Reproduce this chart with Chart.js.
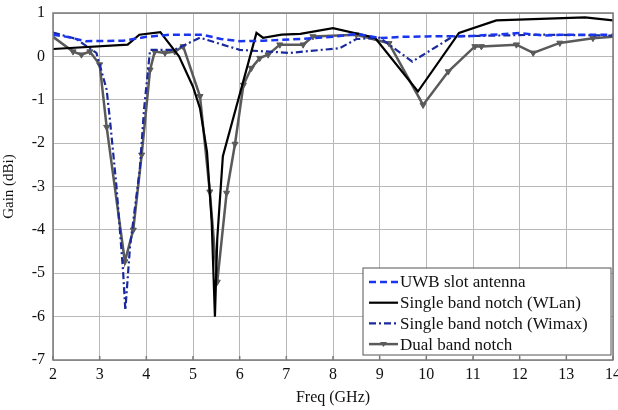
<!DOCTYPE html>
<html>
<head>
<meta charset="utf-8">
<script src="https://cdn.jsdelivr.net/npm/chart.js@4"></script>
<style>
  body { margin: 0; background: #fff; }
</style>
</head>
<body>
<canvas id="gainChart" width="618" height="410"></canvas>
<script>
// UWB slot antenna
const uwbFreq = [2, 2.3, 2.7, 3.5, 4.0, 4.5, 5.2, 5.6, 6.0, 6.5, 7.3, 8.0, 8.5, 9.0, 9.5, 10, 11, 12, 12.5, 13, 14];
const uwbGain = [0.5, 0.45, 0.35, 0.36, 0.45, 0.5, 0.5, 0.4, 0.35, 0.36, 0.4, 0.45, 0.52, 0.42, 0.45, 0.46, 0.47, 0.54, 0.48, 0.5, 0.5];

// single band notch (WLan)
const wlanFreq = [2, 3.6, 3.85, 4.3, 4.7, 5.0, 5.15, 5.3, 5.4, 5.47, 5.52, 5.64, 6.36, 6.5, 6.9, 7.3, 8.0, 8.9, 9.82, 10.7, 11.5, 13.4, 14];
const wlanGain = [0.17, 0.27, 0.5, 0.56, 0.0, -0.7, -1.2, -2.2, -3.8, -6.0, -4.2, -2.3, 0.54, 0.43, 0.5, 0.52, 0.65, 0.43, -0.81, 0.54, 0.83, 0.9, 0.83];

// single band notch (Wimax)
const wimaxFreq = [2, 2.5, 2.93, 3.15, 3.22, 3.36, 3.5, 3.55, 3.65, 3.86, 3.95, 4.08, 4.6, 5.15, 6.0, 7.07, 8.15, 8.5, 9.0, 9.7, 10.57, 11.5, 12.5, 14];
const wimaxGain = [0.55, 0.4, 0.08, -0.77, -1.46, -3.0, -4.92, -5.85, -4.39, -2.6, -1.23, 0.15, 0.15, 0.43, 0.15, 0.08, 0.19, 0.4, 0.43, -0.12, 0.46, 0.48, 0.5, 0.48];

// dual band notch
const dualFreq = [2, 2.43, 2.61, 2.79, 3.0, 3.15, 3.54, 3.72, 3.9, 4.08, 4.18, 4.4, 4.61, 4.79, 5.15, 5.36, 5.52, 5.72, 5.9, 6.08, 6.25, 6.43, 6.61, 6.86, 7.36, 7.57, 8.5, 9.2, 9.93, 10.47, 11.04, 11.18, 11.93, 12.29, 12.86, 13.57, 14];
const dualGain = [0.45, 0.11, 0.04, 0.11, -0.19, -1.63, -4.73, -4.0, -2.27, -0.31, 0.11, 0.08, 0.11, 0.23, -0.92, -3.12, -5.2, -3.15, -2.02, -0.66, -0.27, -0.04, 0.04, 0.27, 0.27, 0.46, 0.5, 0.3, -1.12, -0.35, 0.23, 0.23, 0.27, 0.08, 0.31, 0.42, 0.45];

const seriesLabels = ['UWB slot antenna', 'Single band notch (WLan)', 'Single band notch (Wimax)', 'Dual band notch'];

const xTicks = [2, 3, 4, 5, 6, 7, 8, 9, 10, 11, 12, 13, 14];
const yTicks = [-7, -6, -5, -4, -3, -2, -1, 0, 1];

function zip(xs, ys) {
    return xs.map((x, i) => ({ x: x, y: ys[i] }));
}

const serif = 'Liberation Serif, Times New Roman, serif';

// frame around plot + legend box in the lower right
const framePlugin = {
    id: 'frame',
    afterDraw(chart) {
        const ctx = chart.ctx;
        const a = chart.chartArea;
        ctx.save();
        ctx.strokeStyle = '#7a7a7a';
        ctx.lineWidth = 1.5;
        ctx.setLineDash([]);
        ctx.strokeRect(a.left, a.top, a.right - a.left, a.bottom - a.top);

        // little inward ticks on the bottom axis
        const xs = chart.scales.x;
        ctx.beginPath();
        xTicks.forEach(v => {
            const px = xs.getPixelForValue(v);
            ctx.moveTo(px, a.bottom);
            ctx.lineTo(px, a.bottom - 4);
        });
        ctx.stroke();

        const w = 248, h = 87;
        const bx = a.right - 2 - w;
        const by = a.bottom - 5 - h;
        ctx.fillStyle = '#fff';
        ctx.fillRect(bx, by, w, h);
        ctx.strokeStyle = '#555';
        ctx.lineWidth = 1;
        ctx.strokeRect(bx, by, w, h);

        ctx.font = '17px ' + serif;
        ctx.textBaseline = 'middle';
        chart.data.datasets.forEach((ds, i) => {
            const yy = by + 14 + i * 20.7;
            ctx.strokeStyle = ds.borderColor;
            ctx.lineWidth = ds.borderWidth;
            ctx.setLineDash(ds.borderDash || []);
            ctx.beginPath();
            ctx.moveTo(bx + 6, yy);
            ctx.lineTo(bx + 35, yy);
            ctx.stroke();
            ctx.setLineDash([]);
            if (ds.pointStyle === 'triangle') {
                ctx.fillStyle = ds.borderColor;
                ctx.beginPath();
                ctx.moveTo(bx + 17, yy - 2);
                ctx.lineTo(bx + 24, yy - 2);
                ctx.lineTo(bx + 20.5, yy + 3);
                ctx.closePath();
                ctx.fill();
            }
            ctx.fillStyle = '#111';
            ctx.fillText(ds.label, bx + 37, yy + 1);
        });
        ctx.restore();
    }
};

const ctx = document.getElementById('gainChart').getContext('2d');
const gainChart = new Chart(ctx, {
    type: 'line',
    data: {
        datasets: [
            {
                label: seriesLabels[0],
                data: zip(uwbFreq, uwbGain),
                borderColor: '#1a35f0',
                borderWidth: 2.5,
                borderDash: [7, 4],
                pointRadius: 0,
                tension: 0
            },
            {
                label: seriesLabels[1],
                data: zip(wlanFreq, wlanGain),
                borderColor: '#000000',
                borderWidth: 2.2,
                pointRadius: 0,
                tension: 0
            },
            {
                label: seriesLabels[2],
                data: zip(wimaxFreq, wimaxGain),
                borderColor: '#1a2a9c',
                borderWidth: 2.2,
                borderDash: [7, 3, 2, 3],
                pointRadius: 0,
                tension: 0
            },
            {
                label: seriesLabels[3],
                data: zip(dualFreq, dualGain),
                borderColor: '#5a5a5a',
                backgroundColor: '#5a5a5a',
                borderWidth: 2.5,
                pointStyle: 'triangle',
                pointRotation: 180,
                pointRadius: (c) => (c.dataIndex === 0 || c.dataIndex === dualFreq.length - 1) ? 0 : 3.5,
                pointBorderWidth: 1,
                tension: 0
            }
        ]
    },
    options: {
        responsive: false,
        animation: false,
        layout: { padding: { top: 13, right: 5, left: 0, bottom: 0 } },
        scales: {
            x: {
                type: 'linear',
                min: 2,
                max: 14,
                afterFit: (s) => { s.height = 50; s.paddingLeft = 0; s.paddingRight = 0; },
                afterBuildTicks: (s) => { s.ticks = xTicks.map(v => ({ value: v })); },
                border: { display: false },
                grid: { color: '#b8b8b8', tickLength: 0, lineWidth: 1, borderDash: [1, 2] },
                ticks: { color: '#111', padding: 5, font: { family: serif, size: 16 } },
                title: { display: true, text: 'Freq (GHz)', color: '#111', font: { family: serif, size: 16 }, padding: { top: 0, bottom: 3 } }
            },
            y: {
                min: -7,
                max: 1,
                afterFit: (s) => { s.width = 53; s.paddingTop = 0; s.paddingBottom = 0; },
                afterBuildTicks: (s) => { s.ticks = yTicks.map(v => ({ value: v })); },
                border: { display: false },
                grid: { color: '#b8b8b8', tickLength: 0, lineWidth: 1, borderDash: [1, 2] },
                ticks: { color: '#111', padding: 8, font: { family: serif, size: 16 } },
                title: { display: true, text: 'Gain (dBi)', color: '#111', font: { family: serif, size: 15 }, padding: { top: 0, bottom: 2 } }
            }
        },
        plugins: {
            legend: { display: false },
            tooltip: { enabled: false }
        }
    },
    plugins: [framePlugin]
});
</script>
</body>
</html>
